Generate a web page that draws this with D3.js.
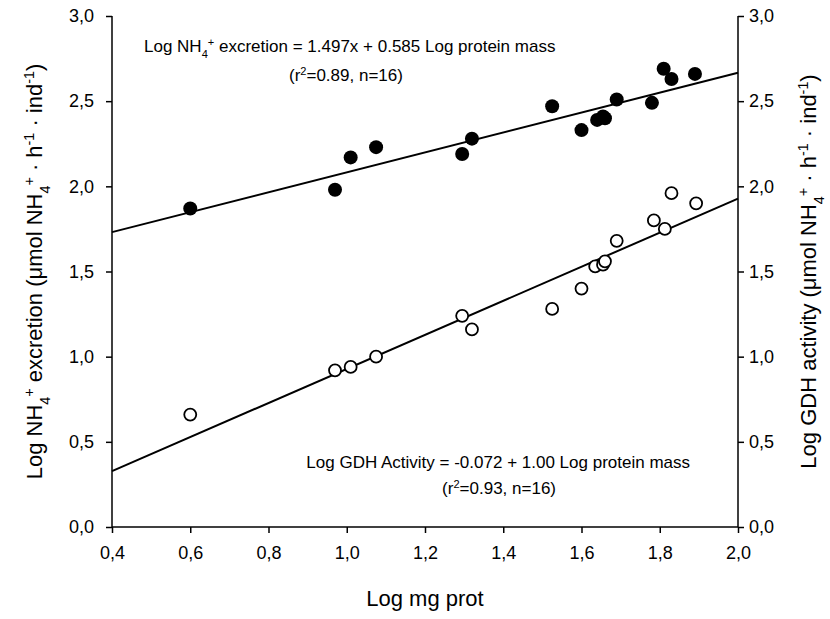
<!DOCTYPE html>
<html>
<head>
<meta charset="utf-8">
<script src="https://cdn.jsdelivr.net/npm/d3@7"></script>
<style>
    body { margin: 0; background: #fff; }
    svg { font-family: "Liberation Sans", Arial, sans-serif; }
</style>
</head>
<body>
<svg id="chart" width="830" height="619"></svg>
<script>
// log protein mass (x) for every animal
var logProt = [0.60, 0.97, 1.01, 1.075, 1.295, 1.32, 1.525, 1.60, 1.64, 1.655, 1.66, 1.69, 1.78, 1.81, 1.83, 1.89];
// filled dots: log NH4+ excretion
var excretion = [1.87, 1.98, 2.17, 2.23, 2.19, 2.28, 2.47, 2.33, 2.39, 2.41, 2.40, 2.51, 2.49, 2.69, 2.63, 2.66];
// open dots: log GDH activity
var gdhX = [0.60, 0.97, 1.01, 1.075, 1.295, 1.32, 1.525, 1.60, 1.635, 1.655, 1.66, 1.69, 1.785, 1.813, 1.83, 1.893];
var gdh = [0.66, 0.92, 0.94, 1.00, 1.24, 1.16, 1.28, 1.40, 1.53, 1.54, 1.56, 1.68, 1.80, 1.75, 1.96, 1.90];

// regression lines [intercept, slope]
var excretionFit = [1.497, 0.585];
var gdhFit = [-0.072, 1.00];

var xTicks = [0.4, 0.6, 0.8, 1.0, 1.2, 1.4, 1.6, 1.8, 2.0];
var yTicks = [0, 0.5, 1.0, 1.5, 2.0, 2.5, 3.0];

(function () {
    var svg = d3.select("#chart");
    var mLeft = 112, mRight = 738, mTop = 16, mBottom = 527;

    var x = d3.scaleLinear().domain([0.4, 2.0]).range([mLeft, mRight]);
    var y = d3.scaleLinear().domain([0, 3]).range([mBottom, mTop]);

    function comma(d) { return d3.format(".1f")(d).replace(".", ","); }

    var xAxis = svg.append("g")
        .attr("transform", "translate(0," + mBottom + ")")
        .call(d3.axisBottom(x).tickValues(xTicks).tickFormat(comma).tickSize(6).tickPadding(13));
    var yAxisL = svg.append("g")
        .attr("transform", "translate(" + mLeft + ",0)")
        .call(d3.axisLeft(y).tickValues(yTicks).tickFormat(comma).tickSize(6).tickPadding(12));
    var yAxisR = svg.append("g")
        .attr("transform", "translate(" + mRight + ",0)")
        .call(d3.axisRight(y).tickValues(yTicks).tickFormat(comma).tickSize(6).tickPadding(5));

    [xAxis, yAxisL, yAxisR].forEach(function (a) {
        a.select(".domain").attr("stroke", "#000").attr("stroke-width", 1.5);
        a.selectAll(".tick line").attr("stroke", "#000").attr("stroke-width", 1.5);
        a.selectAll(".tick text").attr("fill", "#000").style("font-size", "18px")
            .style("font-family", "Liberation Sans, Arial, sans-serif");
    });
    // plain axis lines without end caps
    xAxis.select(".domain").attr("d", "M" + mLeft + ",0H" + mRight);
    yAxisL.select(".domain").attr("d", "M0," + mTop + "V" + mBottom);
    yAxisR.select(".domain").attr("d", "M0," + mTop + "V" + mBottom);

    // regression lines
    var line = d3.line().x(function (d) { return x(d[0]); }).y(function (d) { return y(d[1]); });
    [excretionFit, gdhFit].forEach(function (f) {
        svg.append("path")
            .datum([0.4, 2.0].map(function (v) { return [v, f[0] + f[1] * v]; }))
            .attr("d", line)
            .attr("fill", "none")
            .attr("stroke", "#000")
            .attr("stroke-width", 2);
    });

    // points
    svg.selectAll("circle.gdh").data(gdh).enter().append("circle")
        .attr("class", "gdh")
        .attr("cx", function (d, i) { return x(gdhX[i]); })
        .attr("cy", function (d) { return y(d); })
        .attr("r", 6)
        .attr("fill", "#fff")
        .attr("stroke", "#000")
        .attr("stroke-width", 1.8);

    svg.selectAll("circle.exc").data(excretion).enter().append("circle")
        .attr("class", "exc")
        .attr("cx", function (d, i) { return x(logProt[i]); })
        .attr("cy", function (d) { return y(d); })
        .attr("r", 7)
        .attr("fill", "#000");

    // text with sub/superscripts
    function addText(g, parts, size) {
        parts.forEach(function (p) {
            var t = g.append("tspan").text(p[0]);
            if (p[1] === "sup") t.attr("baseline-shift", "super").style("font-size", (size * 0.65) + "px");
            if (p[1] === "sub") t.attr("baseline-shift", "sub").style("font-size", (size * 0.65) + "px");
        });
    }

    var fs = 17;
    var a1 = svg.append("text").attr("x", 144).attr("y", 52).style("font-size", fs + "px");
    addText(a1, [["Log NH"], ["4", "sub"], ["+", "sup"], [" excretion = 1.497x + 0.585 Log protein mass"]], fs);
    var a2 = svg.append("text").attr("x", 289).attr("y", 81).style("font-size", fs + "px");
    addText(a2, [["(r"], ["2", "sup"], ["=0.89, n=16)"]], fs);

    var b1 = svg.append("text").attr("x", 690).attr("y", 468).attr("text-anchor", "end").style("font-size", fs + "px");
    addText(b1, [["Log GDH Activity = -0.072 + 1.00 Log protein mass"]], fs);
    var b2 = svg.append("text").attr("x", 556).attr("y", 494).attr("text-anchor", "end").style("font-size", fs + "px");
    addText(b2, [["(r"], ["2", "sup"], ["=0.93, n=16)"]], fs);

    // axis titles
    var ts = 22;
    svg.append("text")
        .attr("x", (mLeft + mRight) / 2).attr("y", 606)
        .attr("text-anchor", "middle")
        .style("font-size", ts + "px")
        .text("Log mg prot");

    var unit = [[" ("], ["\u03bc"], ["mol NH"], ["4", "sub"], ["+", "sup"], [" \u00b7 h"], ["-1", "sup"], [" \u00b7 ind"], ["-1", "sup"], [")"]];

    var tl = svg.append("text")
        .attr("transform", "translate(42," + (mTop + mBottom) / 2 + ") rotate(-90)")
        .attr("text-anchor", "middle")
        .style("font-size", ts + "px");
    addText(tl, [["Log NH"], ["4", "sub"], ["+", "sup"], [" excretion"]].concat(unit), ts);

    var tr = svg.append("text")
        .attr("transform", "translate(816," + (mTop + mBottom) / 2 + ") rotate(-90)")
        .attr("text-anchor", "middle")
        .style("font-size", ts + "px");
    addText(tr, [["Log GDH activity"]].concat(unit), ts);
})();
</script>
</body>
</html>
